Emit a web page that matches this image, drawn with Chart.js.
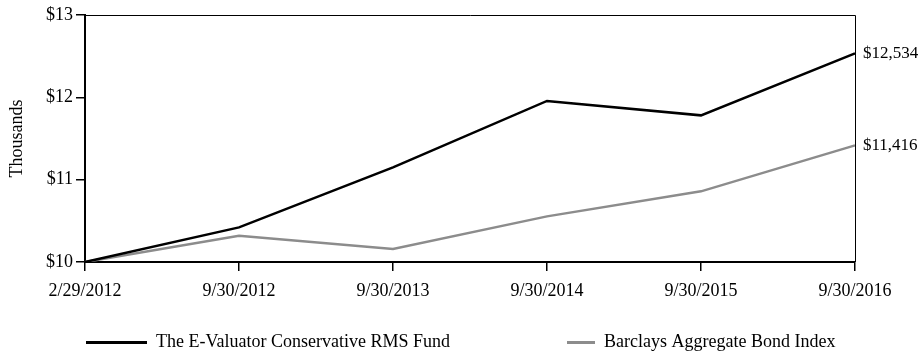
<!DOCTYPE html>
<html>
<head>
<meta charset="utf-8">
<script src="https://cdn.jsdelivr.net/npm/chart.js@4.4.1/dist/chart.umd.min.js"></script>
<style>
  html, body { margin: 0; padding: 0; background: #fff; }
  #wrap { width: 924px; height: 351px; position: relative; }
</style>
</head>
<body>
<div id="wrap"><canvas id="growth"></canvas></div>
<script>
// Growth of a hypothetical $10,000 investment
const periods = ['2/29/2012', '9/30/2012', '9/30/2013', '9/30/2014', '9/30/2015', '9/30/2016'];
const fundValues = [10000, 10420, 11149, 11956, 11781, 12534];
const bondValues = [10000, 10320, 10158, 10554, 10858, 11416];
const seriesNames = ['The E-Valuator Conservative RMS Fund', 'Barclays Aggregate Bond Index'];
const yTickValues = [10000, 11000, 12000, 13000];
const yTitle = 'Thousands';

const FONT = '"Liberation Serif", "Times New Roman", serif';
const FUND_COLOR = '#000000';
const BOND_COLOR = '#8c8c8c';

// Frame lines on top/right, ending value labels, axis title and legend
const decorations = {
  id: 'decorations',
  afterDatasetsDraw(chart) {
    const { ctx, chartArea: a } = chart;
    ctx.save();
    ctx.strokeStyle = '#000';
    ctx.lineWidth = 1;
    ctx.beginPath();
    ctx.moveTo(a.left, a.top + 0.5);
    ctx.lineTo(a.right + 0.5, a.top + 0.5);
    ctx.lineTo(a.right + 0.5, a.bottom);
    ctx.stroke();

    // ending values next to the last point of each series
    ctx.font = '17px ' + FONT;
    ctx.fillStyle = '#000';
    ctx.textAlign = 'left';
    ctx.textBaseline = 'middle';
    chart.data.datasets.forEach((ds, i) => {
      const meta = chart.getDatasetMeta(i);
      const last = meta.data[meta.data.length - 1];
      const v = ds.data[ds.data.length - 1];
      ctx.fillText('$' + v.toLocaleString('en-US'), a.right + 8, last.y);
    });

    // rotated y-axis title
    ctx.font = '18px ' + FONT;
    ctx.save();
    ctx.translate(17, (a.top + a.bottom) / 2);
    ctx.rotate(-Math.PI / 2);
    ctx.textAlign = 'center';
    ctx.fillText(yTitle, 0, 0);
    ctx.restore();

    // legend row
    const legendY = 342.5;
    const items = [{ x: 86, w: 61 }, { x: 567, w: 28 }];
    chart.data.datasets.forEach((ds, i) => {
      const it = items[i];
      ctx.strokeStyle = ds.borderColor;
      ctx.lineWidth = 3;
      ctx.beginPath();
      ctx.moveTo(it.x, legendY);
      ctx.lineTo(it.x + it.w, legendY);
      ctx.stroke();
      ctx.fillStyle = '#000';
      ctx.textBaseline = 'middle';
      ctx.fillText(ds.label, it.x + it.w + 9, legendY);
    });
    ctx.restore();
  }
};

new Chart(document.getElementById('growth'), {
  type: 'line',
  data: {
    labels: periods,
    datasets: [
      { label: seriesNames[0], data: fundValues, borderColor: FUND_COLOR, borderWidth: 2.5, pointRadius: 0, tension: 0 },
      { label: seriesNames[1], data: bondValues, borderColor: BOND_COLOR, borderWidth: 2.5, pointRadius: 0, tension: 0 }
    ]
  },
  options: {
    responsive: true,
    maintainAspectRatio: false,
    animation: false,
    layout: { padding: { top: 15, right: 69, bottom: 0, left: 0 } },
    plugins: { legend: { display: false }, tooltip: { enabled: false } },
    scales: {
      x: {
        offset: false,
        afterFit(scale) { scale.height = 89; },
        grid: { drawOnChartArea: false, drawTicks: true, tickLength: 9, color: '#000', lineWidth: 1.5 },
        border: { display: true, color: '#000', width: 2 },
        ticks: { color: '#000', font: { family: FONT, size: 18 }, padding: 9, maxRotation: 0, autoSkip: false }
      },
      y: {
        min: 10000,
        max: 13000,
        afterFit(scale) { scale.width = 85; },
        afterBuildTicks(scale) { scale.ticks = yTickValues.map(v => ({ value: v })); },
        grid: { drawOnChartArea: false, drawTicks: true, tickLength: 9, color: '#000', lineWidth: 1.5 },
        border: { display: true, color: '#000', width: 2 },
        ticks: { color: '#000', font: { family: FONT, size: 18 }, padding: 3, callback: v => '$' + (v / 1000) }
      }
    }
  },
  plugins: [decorations]
});
</script>
</body>
</html>
